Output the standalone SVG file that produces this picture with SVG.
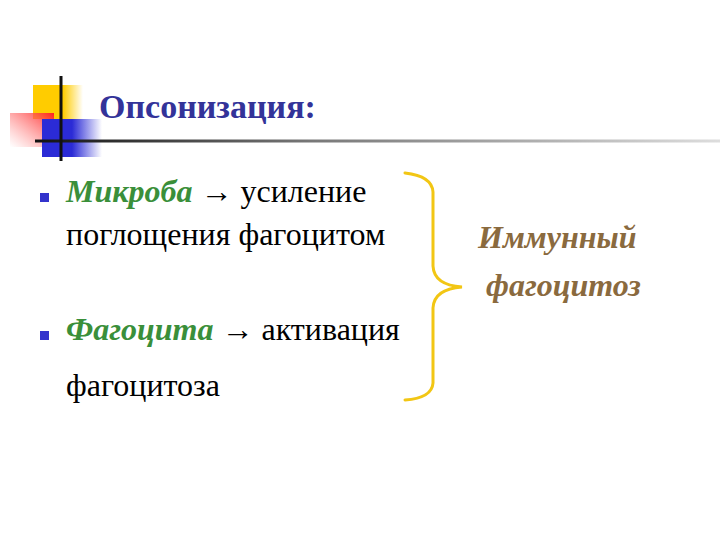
<svg xmlns="http://www.w3.org/2000/svg" width="720" height="540" viewBox="0 0 720 540">
<defs>
<linearGradient id="gYel" x1="0" y1="0" x2="1" y2="0">
<stop offset="0" stop-color="#ffcc00"/><stop offset="0.6" stop-color="#ffcc00"/><stop offset="1" stop-color="#ffcc00" stop-opacity="0"/>
</linearGradient>
<linearGradient id="gRed" x1="1" y1="0" x2="0" y2="1">
<stop offset="0" stop-color="#ff2020"/><stop offset="0.25" stop-color="#ff5050" stop-opacity="0.8"/><stop offset="1" stop-color="#ff8080" stop-opacity="0"/>
</linearGradient>
<linearGradient id="gBlue" x1="0" y1="0" x2="1" y2="0">
<stop offset="0" stop-color="#2b2bd6"/><stop offset="0.5" stop-color="#2b2bd6"/><stop offset="1" stop-color="#2b2bd6" stop-opacity="0"/>
</linearGradient>
<linearGradient id="gLine" x1="0" y1="0" x2="1" y2="0">
<stop offset="0" stop-color="#111111"/><stop offset="0.4" stop-color="#777777"/><stop offset="1" stop-color="#dddddd"/>
</linearGradient>
</defs>
<style>
.bul{fill:#3333cc}
.brace{fill:none;stroke:#f2c614;stroke-width:3;stroke-linecap:round}
</style>
<rect width="720" height="540" fill="#ffffff"/>
<g id="decor">
<rect x="33" y="85" width="50" height="34" fill="url(#gYel)"/>
<rect x="10" y="113" width="44" height="34" fill="url(#gRed)"/>
<rect x="42" y="119" width="60" height="38" fill="url(#gBlue)"/>
<rect x="35" y="139.5" width="685" height="3" fill="url(#gLine)"/>
<rect x="59.5" y="76" width="3" height="85" fill="#111111"/>
</g>
<g id="title">
<text x="99" y="118" font-family="Liberation Serif, DejaVu Serif, serif" font-size="34" font-weight="bold" fill="#333399">Опсонизация:</text>
</g>
<g id="item1">
<rect class="bul" x="40" y="193" width="9" height="9"/>
<text x="66" y="202" font-family="Liberation Serif, DejaVu Serif, serif" font-size="32" fill="#000000"><tspan font-style="italic" font-weight="bold" fill="#3a8f3a">Микроба</tspan> → усиление</text>
<text x="66" y="245" font-family="Liberation Serif, DejaVu Serif, serif" font-size="32" fill="#000000">поглощения фагоцитом</text>
</g>
<g id="item2">
<rect class="bul" x="40" y="331" width="9" height="9"/>
<text x="66" y="340" font-family="Liberation Serif, DejaVu Serif, serif" font-size="32" fill="#000000"><tspan font-style="italic" font-weight="bold" fill="#3a8f3a">Фагоцита</tspan> → активация</text>
<text x="66" y="396" font-family="Liberation Serif, DejaVu Serif, serif" font-size="32" fill="#000000">фагоцитоза</text>
</g>
<g id="result">
<text x="478" y="248" font-family="Liberation Serif, DejaVu Serif, serif" font-size="32" font-style="italic" font-weight="bold" fill="#8a6a3e">Иммунный</text>
<text x="486" y="296" font-family="Liberation Serif, DejaVu Serif, serif" font-size="32" font-style="italic" font-weight="bold" fill="#8a6a3e">фагоцитоз</text>
</g>
<g id="connectors">
<path class="brace" d="M405,173 Q432,176 433,192 L433,266 Q434,285 462,287 Q434,289 433,308 L433,383 Q432,398 405,400"/>
</g>
</svg>
